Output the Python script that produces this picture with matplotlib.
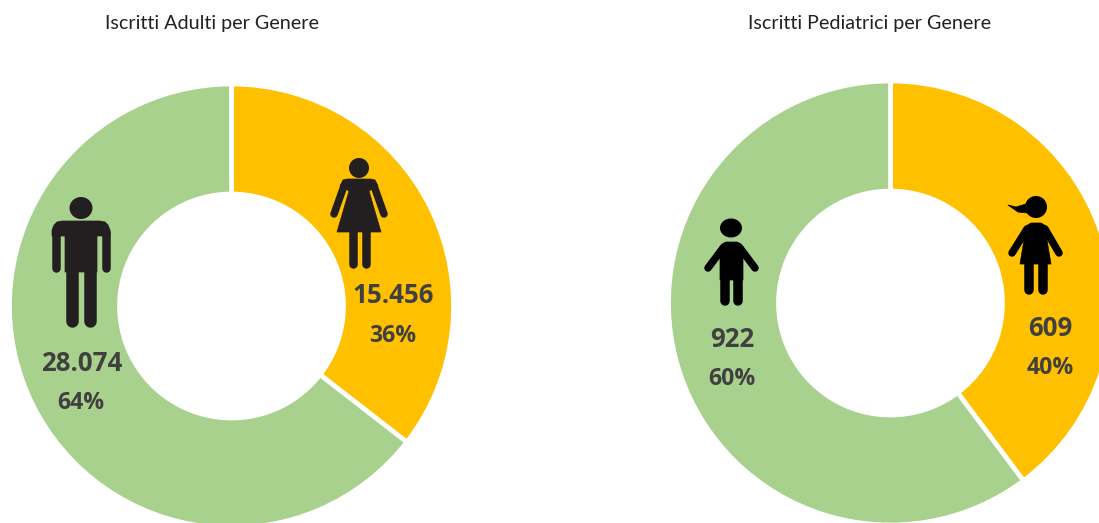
import matplotlib
matplotlib.use('Agg')
import matplotlib.pyplot as plt
from matplotlib.patches import Polygon, Ellipse

W, H = 1099, 523

titles = ['Iscritti Adulti per Genere', 'Iscritti Pediatrici per Genere']
adults = [15456, 28074]
children = [609, 922]
adults_pct = [36, 64]
children_pct = [40, 60]
colors = ['#FFC000', '#A9D18E']
text_color = '#404040'

plt.rcParams['font.family'] = ['Open Sans', 'DejaVu Sans']

fig = plt.figure(figsize=(W / 100, H / 100), dpi=100)
ax = fig.add_axes([0, 0, 1, 1])


def Y(py):
    # picture pixels run downwards, the axes upwards
    return H - py


def limb(p0, p1, width):
    ax.plot([p0[0], p1[0]], [Y(p0[1]), Y(p1[1])], color=icon_color, lw=width * 0.72,
            solid_capstyle='round', zorder=5)


def shape(points):
    ax.add_patch(Polygon([(x, Y(y)) for x, y in points], closed=True, fc=icon_color,
                         ec=icon_color, lw=0.5, joinstyle='round', zorder=5))


def head(x, y, rx, ry):
    ax.add_patch(Ellipse((x, Y(y)), 2 * rx, 2 * ry, fc=icon_color, ec='none', zorder=5))


def draw_man():
    head(81, 208, 11.5, 11)
    shape([(62, 221), (100, 221), (105, 222), (108, 225), (110, 230), (110, 236), (97, 236),
           (97, 272), (65, 272), (65, 236), (52, 236), (52, 230), (54, 225), (57, 222)])
    limb((56.2, 232), (56.2, 268), 8.5)
    limb((105.8, 232), (105.8, 268), 8.5)
    limb((71.5, 265), (71.5, 321), 12.5)
    limb((90, 265), (90, 321), 12.5)


def draw_woman():
    head(359, 168, 10, 10)
    shape([(347, 179), (371, 179), (375, 180), (378, 186), (369, 191), (381, 232), (337, 232),
           (349, 191), (340, 186), (343, 180)])
    limb((344, 186), (334, 214), 7.5)
    limb((374, 186), (384, 214), 7.5)
    limb((352.5, 228), (352.5, 264), 8.5)
    limb((366, 228), (366, 264), 8.5)


def draw_boy():
    head(731, 228, 11, 9.5)
    shape([(726, 242), (737, 242), (741, 244), (745, 250), (743, 258), (743, 280), (720, 280),
           (720, 258), (718, 250), (722, 244)])
    limb((723, 248), (708, 268), 7.5)
    limb((740, 248), (755, 268), 7.5)
    limb((724.5, 275), (724.5, 300.5), 9.5)
    limb((738, 275), (738, 300.5), 9.5)


def draw_girl():
    head(1036, 207, 11, 11)
    shape([(1008, 205), (1016, 207), (1026, 204), (1027, 213), (1018, 212)])
    shape([(1031, 223), (1041, 223), (1046, 226), (1050, 234), (1047, 240), (1051, 264),
           (1020, 264), (1024, 240), (1022, 234), (1026, 226)])
    limb((1027, 229), (1012, 253), 7.5)
    limb((1045, 229), (1059, 253), 7.5)
    limb((1028.5, 260), (1028.5, 290), 9.5)
    limb((1042.5, 260), (1042.5, 290), 9.5)


icon_color = '#231f20'

ring = {'width': 110, 'edgecolor': 'white', 'linewidth': 3.4}
ax.pie(adults, colors=colors, startangle=90, counterclock=False, center=(231.5, Y(306)),
       radius=222, wedgeprops=ring, frame=True)
ax.pie(children, colors=colors, startangle=90, counterclock=False, center=(890.5, Y(303)),
       radius=222, wedgeprops=ring, frame=True)

draw_man()
draw_woman()
icon_color = '#000000'
draw_boy()
draw_girl()

ax.text(212, Y(24), titles[0], ha='center', va='center', fontsize=14.2, color='#222222',
        family=['Lato', 'DejaVu Sans'])
ax.text(870, Y(24), titles[1], ha='center', va='center', fontsize=14.2, color='#222222',
        family=['Lato', 'DejaVu Sans'])


def number(v):
    return f'{v:,}'.replace(',', '.')


value_font = {'ha': 'center', 'va': 'center', 'fontsize': 18.6, 'fontweight': 'bold',
              'color': text_color, 'zorder': 6}
pct_font = dict(value_font, fontsize=16.6)
ax.text(393.5, Y(295.5), number(adults[0]), **value_font)
ax.text(393, Y(336), f'{adults_pct[0]}%', **pct_font)
ax.text(81.5, Y(363.5), number(adults[1]), **value_font)
ax.text(81, Y(403), f'{adults_pct[1]}%', **pct_font)
ax.text(1050, Y(328.5), number(children[0]), **value_font)
ax.text(1050, Y(368), f'{children_pct[0]}%', **pct_font)
ax.text(732, Y(339.5), number(children[1]), **value_font)
ax.text(732, Y(379), f'{children_pct[1]}%', **pct_font)

ax.set_xlim(0, W)
ax.set_ylim(0, H)
ax.set_aspect('equal')
ax.axis('off')

fig.savefig('out.png', dpi=100)
